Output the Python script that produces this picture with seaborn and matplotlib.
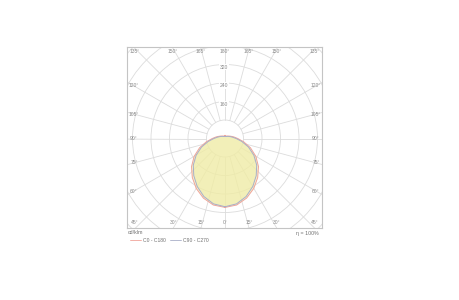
import numpy as np
import pandas as pd
import matplotlib
matplotlib.use("Agg")
import matplotlib.pyplot as plt
import seaborn as sns
from matplotlib.patches import Circle

sns.set_theme(style="white")
plt.rcParams['font.family'] = ['Liberation Sans', 'DejaVu Sans']

# ---- data (cd/klm) ----
angles = [0, 10, 20, 30, 40, 50, 60, 70, 80, 90, 100, 110, 120, 135, 150, 165, 175, 180]
c0_c180 = [298, 292, 274, 249, 220, 189, 154, 117, 82, 55, 39, 28, 21, 15, 12, 11, 11, 14]
c90_c270 = [295, 287, 267, 240, 210, 179, 144, 108, 74, 48, 33, 24, 18, 13, 10, 9, 9, 9]
ring_values = [80, 160, 240, 320, 400, 480, 560]
ring_labels = [160, 240, 320]
series_names = ["C0 - C180", "C90 - C270"]
eta_text = "η = 100%"
unit_text = "cd/klm"

red = "#f0a49a"
blue = "#a8aec8"
fill = "#f0eca6"
gridc = "#dcdcdc"
textc = "#8a8a8a"

s = 80 / 18.5  # data units per pixel

fig = plt.figure(figsize=(4.6, 3.0), dpi=100)
ax = fig.add_axes([127 / 460, 1 - 228 / 300, 195 / 460, 181 / 300])
ax.set_xticks([])
ax.set_yticks([])
for sp in ax.spines.values():
    sp.set_color("#c4c4c4")
    sp.set_linewidth(0.8)

# grid circles
for rv in ring_values:
    ax.add_patch(Circle((0, 0), rv, fill=False, ec=gridc, lw=0.6, zorder=1))
# radial lines
for a in range(0, 360, 15):
    t = np.deg2rad(a)
    ax.plot([80 * np.sin(t), 900 * np.sin(t)], [-80 * np.cos(t), -900 * np.cos(t)],
            color=gridc, lw=0.6, zorder=1)

def to_xy(ang, val, sign):
    t = np.deg2rad(np.array(ang, dtype=float))
    v = np.array(val, dtype=float)
    return sign * v * np.sin(t), -v * np.cos(t)

curves = {}
for name, vals in zip(series_names, [c0_c180, c90_c270]):
    xr, yr = to_xy(angles, vals, 1)
    xl, yl = to_xy(angles[::-1], vals[::-1], -1)
    x = np.concatenate([xr, xl[1:]])
    y = np.concatenate([yr, yl[1:]])
    curves[name] = (x, y)
    ax.fill(x, y, color=fill, alpha=0.55, lw=0, zorder=2)

for name, col in zip(series_names, [red, blue]):
    x, y = curves[name]
    df = pd.DataFrame({"x": x, "y": y})
    sns.lineplot(data=df, x="x", y="y", sort=False, estimator=None, color=col,
                 lw=0.7, ax=ax, zorder=3)
ax.set_xlabel("")
ax.set_ylabel("")
ax.set_xlim(-98 * s, 97 * s)
ax.set_ylim(-89.5 * s, 91.5 * s)

# ring labels
for rv in ring_labels:
    ax.text(-1 * s, rv - 11, str(rv), ha="center", va="center", fontsize=3.6,
            color=textc, zorder=4,
            bbox=dict(boxstyle="square,pad=0.15", fc="white", ec="none"))

# angle labels
fs = 3.6
for dev in [0, 15, 30, 45]:
    for sg in ([1] if dev == 0 else [-1, 1]):
        xb = sg * 90 * np.tan(np.deg2rad(dev)) * s
        ax.text(xb, -84 * s, f"{dev}°", ha="center", va="center", fontsize=fs,
                color=textc, zorder=4)
        ax.text(xb, 87 * s, f"{180 - dev}°", ha="center", va="center", fontsize=fs,
                color=textc, zorder=4)
for ang in [60, 75, 90, 105, 120]:
    yv = -91 * np.tan(np.deg2rad(90 - ang)) * s
    for sg in [-1, 1]:
        ax.text(sg * 91 * s, yv, f"{ang}°", ha="center", va="center", fontsize=fs,
                color=textc, zorder=4)

# footer
fig.text(128 / 460, 1 - 233 / 300, unit_text, ha="left", va="center", fontsize=3.8, color="#707070")
fig.text(319 / 460, 1 - 234 / 300, eta_text, ha="right", va="center", fontsize=3.8, color="#707070")
ly = 1 - 240 / 300
fig.add_artist(plt.Line2D([130 / 460, 141 / 460], [ly, ly], color=red, lw=0.6))
fig.text(143 / 460, ly, series_names[0], ha="left", va="center", fontsize=3.6, color="#707070")
fig.add_artist(plt.Line2D([170 / 460, 181 / 460], [ly, ly], color=blue, lw=0.6))
fig.text(183 / 460, ly, series_names[1], ha="left", va="center", fontsize=3.6, color="#707070")

fig.savefig("out.png", dpi=100, facecolor="white")
